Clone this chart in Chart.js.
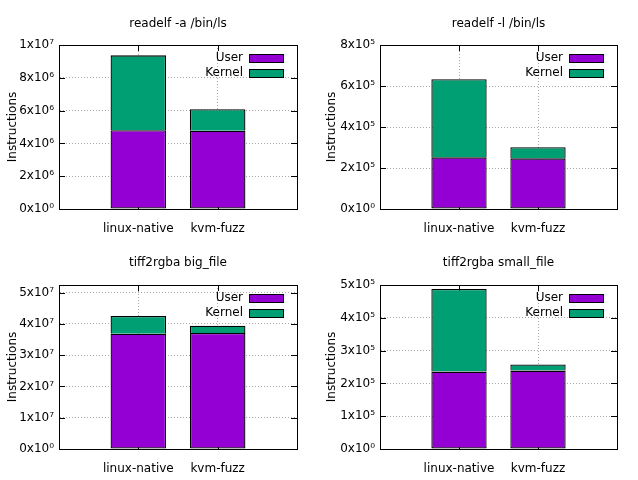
<!DOCTYPE html>
<html>
<head>
<meta charset="utf-8">
<script src="https://cdn.jsdelivr.net/npm/chart.js@4"></script>
<style>
  html, body { margin: 0; padding: 0; background: #fff; }
  #wrap { position: relative; width: 638px; height: 480px; }
  .cell { position: absolute; width: 319px; height: 240px; }
</style>
</head>
<body>
<div id="wrap">
  <div class="cell" style="left:0;top:0"><canvas id="c1"></canvas></div>
  <div class="cell" style="left:319px;top:0"><canvas id="c2"></canvas></div>
  <div class="cell" style="left:0;top:240px"><canvas id="c3"></canvas></div>
  <div class="cell" style="left:319px;top:240px"><canvas id="c4"></canvas></div>
</div>
<script>
// 네 개의 누적 막대 (User / Kernel 명령어 수)
const categories = ["linux-native", "kvm-fuzz"];
const seriesNames = ["User", "Kernel"];

const titles = ["readelf -a /bin/ls", "readelf -l /bin/ls", "tiff2rgba big_file", "tiff2rgba small_file"];

const user1 = [4.80e6, 4.77e6];
const kernel1 = [4.57e6, 1.31e6];
const user2 = [2.52e5, 2.47e5];
const kernel2 = [3.81e5, 0.54e5];
const user3 = [3.68e7, 3.71e7];
const kernel3 = [0.57e7, 0.23e7];
const user4 = [2.36e5, 2.39e5];
const kernel4 = [2.52e5, 0.19e5];

const yMax = [1e7, 8e5, 5.24e7, 5e5];
const yStep = [2e6, 2e5, 1e7, 1e5];
const ticks1 = ["0x10⁰", "2x10⁶", "4x10⁶", "6x10⁶", "8x10⁶", "1x10⁷"];
const ticks2 = ["0x10⁰", "2x10⁵", "4x10⁵", "6x10⁵", "8x10⁵"];
const ticks3 = ["0x10⁰", "1x10⁷", "2x10⁷", "3x10⁷", "4x10⁷", "5x10⁷"];
const ticks4 = ["0x10⁰", "1x10⁵", "2x10⁵", "3x10⁵", "4x10⁵", "5x10⁵"];

const USER_COLOR = "#9400d3";
const KERNEL_COLOR = "#009e73";
const GRID = "#a8a8a8";
const FONT = "12px 'DejaVu Sans', sans-serif";

Chart.defaults.font.family = "'DejaVu Sans', sans-serif";
Chart.defaults.font.size = 12;
Chart.defaults.color = "#000";
Chart.defaults.animation = false;

// gnuplot 식 테두리 + 안쪽 눈금 + 제목 + 범례
const frameTicks = {
  id: "frameTicks",
  beforeDatasetsDraw(chart) {
    const { ctx, chartArea: a, scales } = chart;
    const L = 6;
    ctx.save();
    ctx.strokeStyle = "#000";
    ctx.lineWidth = 1;
    ctx.beginPath();
    scales.y.ticks.forEach((t) => {
      if (t.value <= 0 || t.value >= scales.y.max) return;
      const y = Math.round(scales.y.getPixelForValue(t.value)) + 0.5;
      ctx.moveTo(a.left, y); ctx.lineTo(a.left + L, y);
      ctx.moveTo(a.right, y); ctx.lineTo(a.right - L, y);
    });
    categories.forEach((c, i) => {
      const x = Math.round(scales.x.getPixelForValue(i)) + 0.5;
      ctx.moveTo(x, a.top); ctx.lineTo(x, a.top + L);
      ctx.moveTo(x, a.bottom); ctx.lineTo(x, a.bottom - L);
    });
    ctx.stroke();
    ctx.restore();
  },
  afterDatasetsDraw(chart) {
    const { ctx, chartArea: a } = chart;
    ctx.save();
    ctx.strokeStyle = "#000";
    ctx.lineWidth = 1;
    ctx.strokeRect(Math.round(a.left) + 0.5, Math.round(a.top) + 0.5,
      Math.round(a.right - a.left), Math.round(a.bottom - a.top));
    ctx.restore();
  },
  afterDraw(chart, args, opts) {
    const { ctx, chartArea: a } = chart;
    ctx.save();
    ctx.font = FONT;
    ctx.textBaseline = "middle";
    ctx.fillStyle = "#000";
    ctx.textAlign = "center";
    ctx.fillText(opts.title, (a.left + a.right) / 2, opts.titleY);
    ctx.textAlign = "right";
    chart.data.datasets.forEach((ds, i) => {
      const y = a.top + 13 + 15 * i;
      const bx = Math.round(a.right) - 48;
      ctx.fillStyle = "#000";
      ctx.fillText(ds.label, bx - 6, y);
      ctx.fillStyle = ds.backgroundColor;
      ctx.fillRect(bx, Math.round(y - 4), 34, 8);
      ctx.strokeStyle = "#000";
      ctx.strokeRect(bx + 0.5, Math.round(y - 4) + 0.5, 34, 8);
    });
    ctx.restore();
  },
};

function makePanel(id, title, user, kernel, max, step, tickLabels, leftW, rightPad, titleY) {
  const pts = (arr) => arr.map((v, i) => ({ x: i, y: v }));
  new Chart(document.getElementById(id), {
    type: "bar",
    data: {
      datasets: [
        { label: seriesNames[0], data: pts(user), backgroundColor: USER_COLOR,
          borderColor: "#000", borderWidth: 1.3, borderSkipped: false, inflateAmount: 0 },
        { label: seriesNames[1], data: pts(kernel), backgroundColor: KERNEL_COLOR,
          borderColor: "#000", borderWidth: 1.3, borderSkipped: "start", inflateAmount: 0 },
      ],
    },
    options: {
      responsive: true,
      maintainAspectRatio: false,
      categoryPercentage: 1,
      barPercentage: 0.7,
      layout: { padding: { left: 0, right: rightPad, top: 45, bottom: 0 } },
      plugins: {
        legend: { display: false },
        tooltip: { enabled: false },
        title: { display: false },
        frameTicks: { title: title, titleY: titleY },
      },
      scales: {
        x: {
          type: "linear", min: -1, max: 2, stacked: true, offset: false, bounds: "data",
          afterFit: (s) => { s.height = 31; },
          ticks: {
            stepSize: 1, autoSkip: false, maxRotation: 0, padding: 13, includeBounds: false,
            callback: (v) => categories[v] || "",
          },
          grid: {
            offset: false, drawTicks: false, lineWidth: 1,
            color: (c) => (c.tick && (c.tick.value === 0 || c.tick.value === 1)) ? GRID : "rgba(0,0,0,0)",
          },
          border: { display: true, color: "#000", width: 1, dash: [1, 2] },
        },
        y: {
          min: 0, max: max, stacked: true, bounds: "data",
          afterFit: (s) => { s.width = leftW; },
          afterBuildTicks: (s) => { s.ticks = tickLabels.map((l, i) => ({ value: i * step })); },
          ticks: {
            padding: 5,
            callback: (v, i) => tickLabels[i],
          },
          grid: { drawTicks: false, color: GRID, lineWidth: 1 },
          border: { display: true, color: "#000", width: 1, dash: [1, 2] },
          title: { display: true, text: "Instructions", padding: { top: 6, bottom: 0 },
            font: { size: 12 } },
        },
      },
    },
    plugins: [frameTicks],
  });
}

makePanel("c1", titles[0], user1, kernel1, yMax[0], yStep[0], ticks1, 59, 22, 24);
makePanel("c2", titles[1], user2, kernel2, yMax[1], yStep[1], ticks2, 61, 21, 24);
makePanel("c3", titles[2], user3, kernel3, yMax[2], yStep[2], ticks3, 59, 22, 23);
makePanel("c4", titles[3], user4, kernel4, yMax[3], yStep[3], ticks4, 61, 21, 23);
</script>
</body>
</html>
